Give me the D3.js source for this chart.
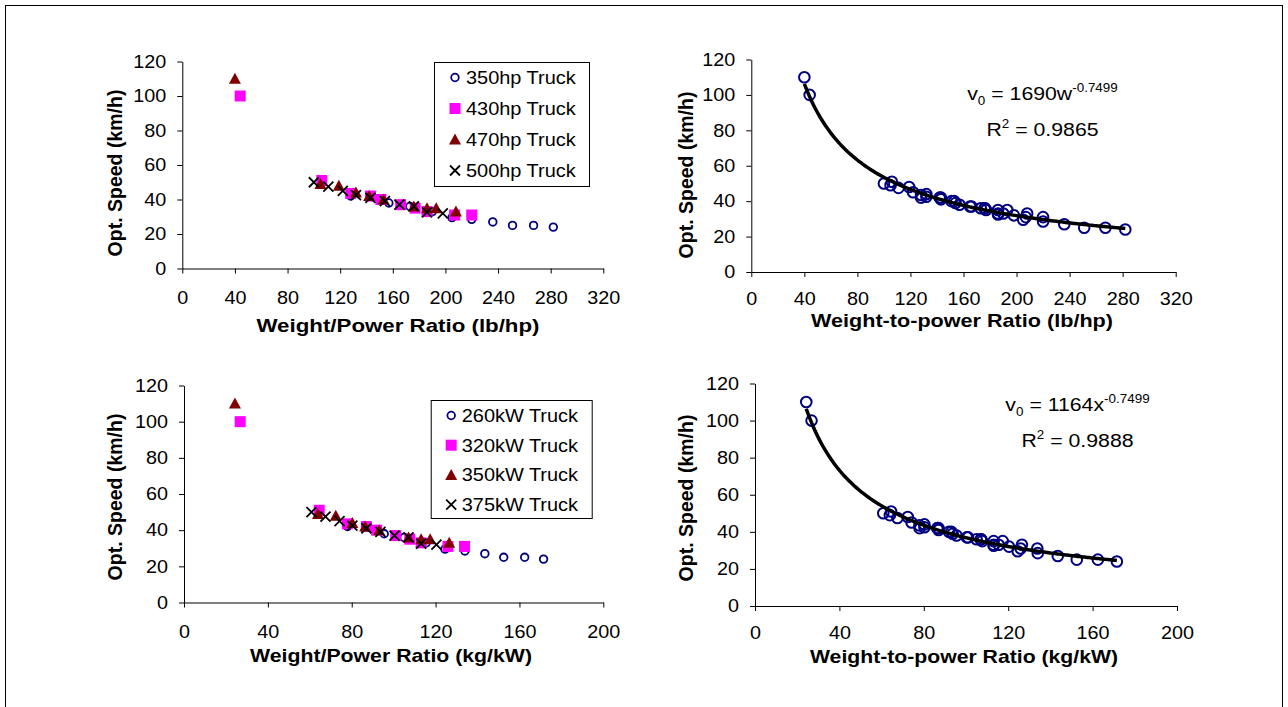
<!DOCTYPE html>
<html><head><meta charset="utf-8">
<script src="https://cdn.jsdelivr.net/npm/d3@7"></script>
<style>body{margin:0;background:#fff}svg{display:block}</style>
</head><body><svg id="c" width="1288" height="707"></svg>
<script>
// ---------- data ----------
const seriesHp = ["350hp Truck","430hp Truck","470hp Truck","500hp Truck"];
const seriesKw = ["260kW Truck","320kW Truck","350kW Truck","375kW Truck"];
const xTicksLb = [0,40,80,120,160,200,240,280,320];
const xTicksKg = [0,40,80,120,160,200];
const yTicks = [0,20,40,60,80,100,120];

// lb/hp data  [weight/power, opt speed]
const hp350 = [[128,42],[157,38],[173,36],[190,33],[205,29.5],[220,28.5],[236,27],[251,25],[267,25],[282,24]];
const hp430 = [[44,100],[106,51],[128,43.5],[143,42],[151,40],[166,37],[177,35],[186,33],[207,31],[220,31]];
const hp470 = [[40,110],[105,49],[119,48],[132,44],[142,42],[153,40],[176,36],[186,35],[193,35],[208,33]];
const hp500 = [[100,50],[111,47.5],[122,45],[132,42.5],[143,41],[154,39],[165,37],[176,36],[186,32.5],[198,32]];

// kg/kW data
const kw260 = [[78,42],[95.5,38],[105,36],[115.5,33],[124.5,29.5],[134,28.5],[143.5,27],[152.5,25],[162.5,25],[171.5,24]];
const kw320 = [[26.8,100],[64.5,51],[77.9,43.5],[87,42],[91.9,40],[101,37],[107.7,35],[113.1,33],[125.9,31],[133.8,31]];
const kw350 = [[24.3,110],[63.9,49],[72.4,48],[80.3,44],[86.4,42],[93.1,40],[107.1,36],[113.1,35],[117.4,35],[126.5,33]];
const kw375 = [[60.8,50],[67.5,47.5],[74.2,45],[80.3,42.5],[87,41],[93.7,39],[100.4,37],[107.1,36],[113.1,32.5],[120.4,32]];

// power-law trendlines v0 = a * x^b
const fitLbA = 1690, fitKgA = 1164, fitExp = -0.7499;
const r2Lb = "0.9865", r2Kg = "0.9888";

// ---------- drawing ----------
const FONT = '"Liberation Sans", Arial, sans-serif';
const svg = d3.select("#c");
svg.append("rect").attr("x",5.5).attr("y",5.5).attr("width",1277).attr("height",760)
  .attr("fill","none").attr("stroke","#000").attr("stroke-width",1);

const markerTypes = ["circle","square","triangle","cross"];
function mark(g, type, cx, cy) {
  if (type === "circle") {
    g.append("circle").attr("cx",cx).attr("cy",cy).attr("r",3.8)
      .attr("fill","none").attr("stroke","#000080").attr("stroke-width",1.8);
  } else if (type === "square") {
    g.append("rect").attr("x",cx-5.5).attr("y",cy-5.5).attr("width",11).attr("height",11).attr("fill","#ff00ff");
  } else if (type === "triangle") {
    g.append("path").attr("d",`M${cx},${cy-6}L${cx+6},${cy+5}L${cx-6},${cy+5}Z`).attr("fill","#800000");
  } else {
    g.append("path").attr("d",`M${cx-5},${cy-5}L${cx+5},${cy+5}M${cx+5},${cy-5}L${cx-5},${cy+5}`)
      .attr("stroke","#000").attr("stroke-width",1.8).attr("fill","none");
  }
}

const TSX = 1.1;
function axes(p) {
  const x = d3.scaleLinear().domain([0, p.xMax]).range([p.x0, p.x1]);
  const y = d3.scaleLinear().domain([0, 120]).range([p.y0, p.y1]);
  const gx = svg.append("g").attr("transform",`translate(0,${p.y0})`)
    .call(d3.axisBottom(x).tickValues(p.xTicks).tickSize(5).tickPadding(p.xPad).tickSizeOuter(0));
  const gy = svg.append("g").attr("transform",`translate(${p.x0},0)`)
    .call(d3.axisLeft(y).tickValues(yTicks).tickSize(5).tickPadding(11).tickSizeOuter(0));
  [gx, gy].forEach(g => {
    g.select(".domain").attr("stroke","#000");
    g.selectAll(".tick line").attr("stroke","#000");
    g.selectAll(".tick text").attr("font-size",18).attr("font-family",FONT).attr("fill","#000")
      .attr("transform",`scale(${TSX},1)`);
  });
  gy.selectAll(".tick text").attr("x", -16 / TSX);
  // x title
  svg.append("text").attr("x",p.xtCx).attr("y",p.xtY).attr("text-anchor","middle")
    .attr("font-family",FONT).attr("font-weight","bold").attr("font-size",19)
    .attr("textLength",p.xtLen).attr("lengthAdjust","spacingAndGlyphs").text(p.xTitle);
  // y title
  svg.append("text").attr("transform",`translate(${p.ytX},${p.ytCy}) rotate(-90)`).attr("text-anchor","middle")
    .attr("font-family",FONT).attr("font-weight","bold").attr("font-size",19.5).text("Opt. Speed (km/h)");
  return {x, y};
}

function scatterPanel(p, series, names, leg) {
  const {x, y} = axes(p);
  const g = svg.append("g");
  series.forEach((s, i) => {
    g.selectAll(null).data(s).enter().each(function(d) {
      mark(g, markerTypes[i], x(d[0]), y(d[1]));
    });
  });
  // legend
  const lg = svg.append("g");
  lg.append("rect").attr("x",leg.x+0.5).attr("y",leg.y+0.5).attr("width",leg.w).attr("height",leg.h)
    .attr("fill","#fff").attr("stroke","#000");
  names.forEach((n, i) => {
    const cy = leg.y + leg.first + i * leg.step;
    mark(lg, markerTypes[i], leg.x + leg.sym, cy);
    lg.append("text").attr("transform",`translate(${leg.x + leg.txt},${cy + 6.5}) scale(1.05,1)`)
      .attr("font-family",FONT).attr("font-size",19).text(n);
  });
}

function fitPanel(p, series, a, varName, r2, ann) {
  const {x, y} = axes(p);
  const all = [].concat(...series);
  const g = svg.append("g");
  g.selectAll("circle").data(all).enter().append("circle")
    .attr("cx", d => x(d[0])).attr("cy", d => y(d[1])).attr("r",5.3)
    .attr("fill","none").attr("stroke","#000080").attr("stroke-width",2);
  const [lo, hi] = d3.extent(all, d => d[0]);
  const xs = d3.range(0, 201).map(i => lo + (hi - lo) * i / 200);
  g.append("path").datum(xs)
    .attr("d", d3.line().x(v => x(v)).y(v => y(a * Math.pow(v, fitExp))))
    .attr("fill","none").attr("stroke","#000").attr("stroke-width",3.5);
  // annotation
  const t1 = svg.append("text").attr("transform",`translate(${ann.cx},${ann.y1}) scale(1.12,1)`)
    .attr("text-anchor","middle").attr("font-family",FONT).attr("font-size",19);
  t1.append("tspan").text("v");
  t1.append("tspan").attr("font-size",12).attr("dy",5).text("0");
  t1.append("tspan").attr("dy",-5).text(" = " + a + varName);
  t1.append("tspan").attr("font-size",12).attr("dy",-8).text(String(fitExp));
  const t2 = svg.append("text").attr("transform",`translate(${ann.cx},${ann.y2}) scale(1.12,1)`)
    .attr("text-anchor","middle").attr("font-family",FONT).attr("font-size",19);
  t2.append("tspan").text("R");
  t2.append("tspan").attr("font-size",12).attr("dy",-8).text("2");
  t2.append("tspan").attr("dy",8).text(" = " + r2);
}

scatterPanel({x0:182.3,x1:603.3,y0:268.5,y1:61.5,xMax:320,xTicks:xTicksLb,xPad:18,
  xTitle:"Weight/Power Ratio (lb/hp)",xtCx:398,xtY:332,xtLen:283,ytX:122,ytCy:173},
  [hp350,hp430,hp470,hp500], seriesHp,
  {x:434,y:62,w:155,h:124,first:15.5,step:31,sym:21,txt:32});

fitPanel({x0:751.3,x1:1175.7,y0:272,y1:59.5,xMax:320,xTicks:xTicksLb,xPad:15,
  xTitle:"Weight-to-power Ratio (lb/hp)",xtCx:962,xtY:327,xtLen:302,ytX:692.5,ytCy:175},
  [hp350,hp430,hp470,hp500], fitLbA, "w", r2Lb, {cx:1042.5,y1:100,y2:136});

scatterPanel({x0:184,x1:603.3,y0:602.5,y1:385.5,xMax:200,xTicks:xTicksKg,xPad:18,
  xTitle:"Weight/Power Ratio (kg/kW)",xtCx:391,xtY:662,xtLen:282,ytX:122,ytCy:497},
  [kw260,kw320,kw350,kw375], seriesKw,
  {x:430.7,y:400,w:161,h:118,first:15.5,step:29.7,sym:20.5,txt:31});

fitPanel({x0:755,x1:1177,y0:606,y1:383.5,xMax:200,xTicks:xTicksKg,xPad:15,
  xTitle:"Weight-to-power Ratio (kg/kW)",xtCx:964,xtY:663,xtLen:308,ytX:692.5,ytCy:498},
  [kw260,kw320,kw350,kw375], fitKgA, "x", r2Kg, {cx:1077.5,y1:411,y2:446.5});
</script></body></html>
